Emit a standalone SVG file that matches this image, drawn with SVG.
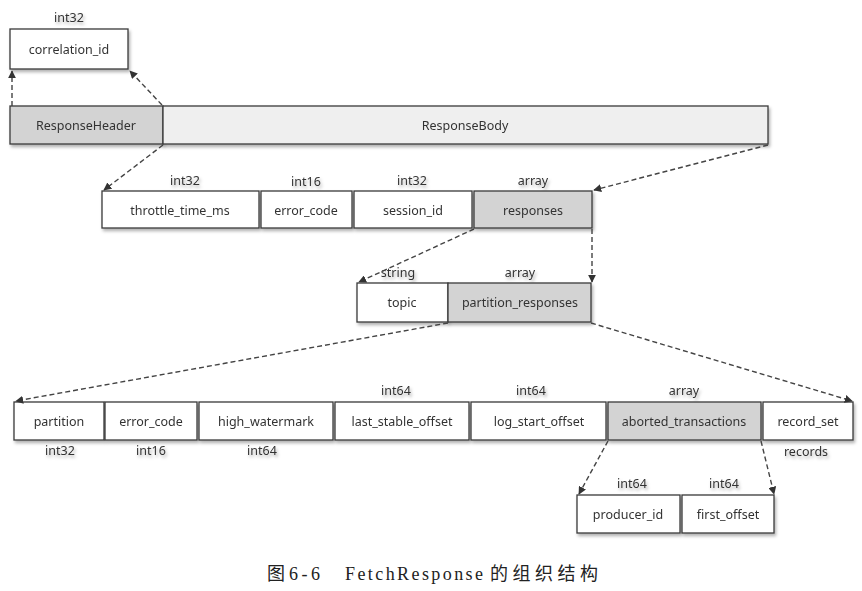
<svg xmlns="http://www.w3.org/2000/svg" width="862" height="591" viewBox="0 0 862 591">
<defs>
<style>
.b{fill:#ffffff;stroke:#3a3a3a;stroke-width:1.3}
.g{fill:#d3d3d3;stroke:#3a3a3a;stroke-width:1.3}
.l{fill:#efefef;stroke:#3a3a3a;stroke-width:1.3}
.t{font-family:"Noto Sans","Open Sans",sans-serif;font-size:12.5px;fill:#333;text-anchor:middle;dominant-baseline:central}
.c{stroke:#444;stroke-width:1.4;stroke-dasharray:5,3;fill:none;marker-end:url(#ah)}
.cap{font-family:"Liberation Serif","Noto Sans CJK SC",serif;font-size:18px;fill:#222}
</style>
<marker id="ah" viewBox="0 0 10 10" refX="9" refY="5" markerWidth="8" markerHeight="8" markerUnits="userSpaceOnUse" orient="auto">
<path d="M0,0 L10,5 L0,10 Z" fill="#333"/>
</marker>
<filter id="sh" x="-5%" y="-10%" width="115%" height="140%">
<feDropShadow dx="1.5" dy="2.5" stdDeviation="1.5" flood-color="#000" flood-opacity="0.3"/>
</filter>
</defs>
<rect width="862" height="591" fill="#ffffff"/>

<g id="correlation_id" filter="url(#sh)">
<rect class="b" x="10" y="29" width="118" height="40"/>
<text class="t" x="69" y="49">correlation_id</text>
<text class="t" x="69" y="17">int32</text>
</g>
<g id="ResponseHeader" filter="url(#sh)">
<rect class="g" x="10" y="106" width="153" height="38"/>
<text class="t" x="86" y="125">ResponseHeader</text>
</g>
<g id="ResponseBody" filter="url(#sh)">
<rect class="l" x="163" y="106" width="605" height="38"/>
<text class="t" x="465" y="125">ResponseBody</text>
</g>

<g id="throttle_time_ms" filter="url(#sh)">
<rect class="b" x="102" y="191" width="157" height="37"/>
<text class="t" x="180" y="210">throttle_time_ms</text>
<text class="t" x="185" y="180">int32</text>
</g>
<g id="error_code_1" filter="url(#sh)">
<rect class="b" x="261" y="191" width="91" height="37"/>
<text class="t" x="306" y="210">error_code</text>
<text class="t" x="306" y="181">int16</text>
</g>
<g id="session_id" filter="url(#sh)">
<rect class="b" x="354" y="191" width="118" height="37"/>
<text class="t" x="413" y="210">session_id</text>
<text class="t" x="412" y="180">int32</text>
</g>
<g id="responses" filter="url(#sh)">
<rect class="g" x="474" y="191" width="118" height="37"/>
<text class="t" x="533" y="210">responses</text>
<text class="t" x="533" y="180">array</text>
</g>

<g id="topic" filter="url(#sh)">
<rect class="b" x="357" y="283" width="91" height="39"/>
<text class="t" x="402" y="302">topic</text>
<text class="t" x="398" y="272">string</text>
</g>
<g id="partition_responses" filter="url(#sh)">
<rect class="g" x="448" y="283" width="143" height="39"/>
<text class="t" x="520" y="302">partition_responses</text>
<text class="t" x="520" y="272">array</text>
</g>

<g id="partition" filter="url(#sh)">
<rect class="b" x="14" y="402" width="90" height="38"/>
<text class="t" x="59" y="421">partition</text>
<text class="t" x="60" y="450">int32</text>
</g>
<g id="error_code_2" filter="url(#sh)">
<rect class="b" x="105" y="402" width="92" height="38"/>
<text class="t" x="151" y="421">error_code</text>
<text class="t" x="151" y="450">int16</text>
</g>
<g id="high_watermark" filter="url(#sh)">
<rect class="b" x="199" y="402" width="134" height="38"/>
<text class="t" x="266" y="421">high_watermark</text>
<text class="t" x="262" y="450">int64</text>
</g>
<g id="last_stable_offset" filter="url(#sh)">
<rect class="b" x="335" y="402" width="134" height="38"/>
<text class="t" x="402" y="421">last_stable_offset</text>
<text class="t" x="396" y="390">int64</text>
</g>
<g id="log_start_offset" filter="url(#sh)">
<rect class="b" x="471" y="402" width="135" height="38"/>
<text class="t" x="539" y="421">log_start_offset</text>
<text class="t" x="531" y="390">int64</text>
</g>
<g id="aborted_transactions" filter="url(#sh)">
<rect class="g" x="608" y="402" width="153" height="38"/>
<text class="t" x="684" y="421">aborted_transactions</text>
<text class="t" x="684" y="390">array</text>
</g>
<g id="record_set" filter="url(#sh)">
<rect class="b" x="763" y="402" width="90" height="38"/>
<text class="t" x="808" y="421">record_set</text>
<text class="t" x="806" y="451">records</text>
</g>

<g id="producer_id" filter="url(#sh)">
<rect class="b" x="577" y="495" width="103" height="38"/>
<text class="t" x="628" y="514">producer_id</text>
<text class="t" x="632" y="483">int64</text>
</g>
<g id="first_offset" filter="url(#sh)">
<rect class="b" x="682" y="495" width="92" height="38"/>
<text class="t" x="728" y="514">first_offset</text>
<text class="t" x="724" y="483">int64</text>
</g>

<g id="connectors">
<path class="c" d="M12,106 L12,71"/>
<path class="c" d="M162,105 L130,71"/>
<path class="c" d="M163,145 L104,190"/>
<path class="c" d="M768,145 L594,190"/>
<path class="c" d="M474,229 L359,282"/>
<path class="c" d="M592,229 L592,282"/>
<path class="c" d="M448,323 L16,401"/>
<path class="c" d="M591,323 L852,401"/>
<path class="c" d="M608,441 L579,494"/>
<path class="c" d="M761,441 L774,494"/>
</g>

<g id="caption">
<text class="cap" x="267" y="580">图</text>
<text class="cap" x="289" y="580" textLength="31" lengthAdjust="spacing">6-6</text>
<text class="cap" x="345" y="580" textLength="138" lengthAdjust="spacing">FetchResponse</text>
<text class="cap" x="490" y="580" textLength="108" lengthAdjust="spacing">的组织结构</text>
</g>
</svg>
